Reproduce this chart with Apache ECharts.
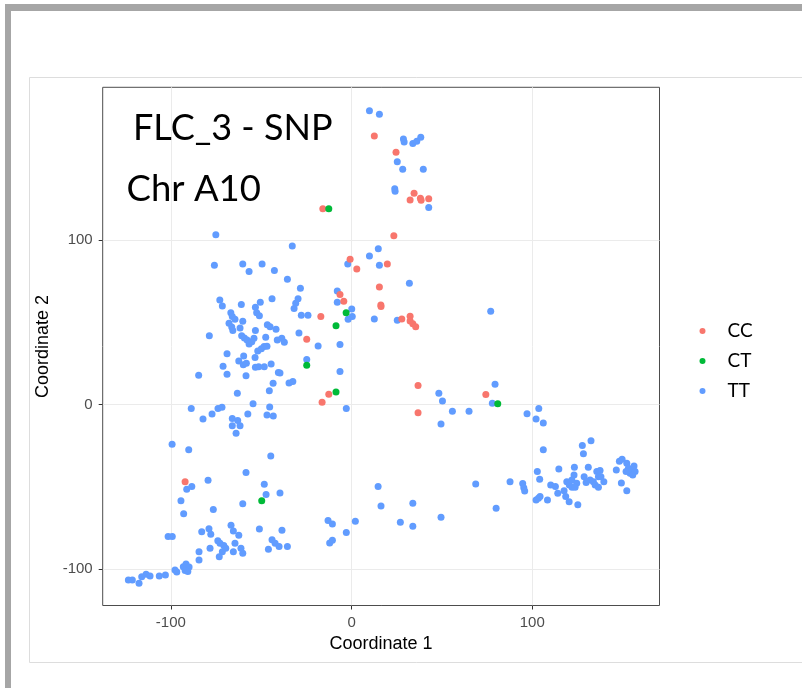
<!DOCTYPE html>
<html><head><meta charset="utf-8">
<script src="https://cdn.jsdelivr.net/npm/echarts@6/dist/echarts.min.js"></script>
<style>html,body{margin:0;padding:0;background:#fff}#c{width:802px;height:688px}</style>
</head><body><div id="c"></div>
<script>
const seriesNames = ['CC', 'CT', 'TT'];
const seriesColors = ['#F8766D', '#00BA38', '#619CFF'];
const xTickLabels = [-100, 0, 100];
const yTickLabels = [-100, 0, 100];
const titleLines = ['FLC_3 - SNP', 'Chr A10'];
const xAxisTitle = 'Coordinate 1';
const yAxisTitle = 'Coordinate 2';

const ccPoints = [
  [12.6,163.3],[24.6,153.4],[34.6,128.5],[32.4,124.4],[38.1,125.5],[38.5,124.3],[42.7,125.2],
  [-15.9,119],[23.4,102.7],[-0.8,88.4],[2.9,82.5],[19.8,85.5],[15.4,71.5],[-6.4,66.9],[-4.3,62.9],
  [16.2,60.6],[16.3,59.6],[-17,53.5],[27.8,52.1],[32.4,53.7],[32.4,50.9],[33.9,49.1],[35.5,47.4],
  [-24.8,39.8],[36.8,11.6],[-12.6,6.3],[-16.3,1.5],[74.3,6.1],[36.8,-4.9],[-92.1,-46.8]
];
const ctPoints = [
  [-12.6,119],[-3.0,55.9],[-8.6,48],[-24.8,24],[-8.6,7.7],[80.9,0.6],[-49.7,-58.5]
];
const ttPoints = [
  [9.9,178.7],[15.4,176.5],[28.7,161.5],[29.1,159.7],[33.9,158.7],[36.1,160.1],[38.3,162.6],[25.3,147.7],
  [28.3,143.1],[39.7,143.1],[23.9,131.3],[24.1,129.7],[42.7,119.8],[-32.8,96.5],[14.8,94.8],[9.9,90.4],
  [-75.1,103.3],[-2.1,85.5],[15.4,84.7],[-35.5,76.2],[-28.3,70.8],[32,73.8],[-7.9,69.1],[-29.6,64.4],
  [-30.9,61.6],[-31.8,58.4],[-7.9,62.2],[0.1,58.2],[0.4,53.5],[-1.9,51.9],[-27.8,54.3],[-24.1,54.3],
  [12.6,52.1],[25.3,51.3],[77,56.8],[-29.1,43.6],[-38.6,40.4],[-37.2,37.9],[-18.5,35.7],[-6.4,36.5],
  [-24.8,27.4],[-39.6,19.3],[-6.4,20.1],[-34.6,13.2],[-32.5,14],[48.3,6.9],[50.3,2.2],[79.4,12.4],
  [77.9,0.9],[55.8,-4],[65,-4],[49.5,-11.7],[-2.9,-2.4],
  [-75.9,84.7],[-60.2,85.5],[-56.7,80.9],[-49.5,85.5],[-42.7,81.5],[-72.9,63.6],[-71.5,60],[-61,60.8],
  [-50.5,62.2],[-44,64.4],[-53.2,59.2],[-52.5,55.9],[-51,54.1],[-66.8,55.9],[-66,53.5],[-64.5,51.9],
  [-67.8,49.5],[-66.3,47.2],[-65.7,45],[-60.2,50.7],[-61.7,46.6],[-53.2,45],[-46.6,48.5],[-45.1,47.4],
  [-41.8,45.8],[-78.7,41.9],[-60.8,41.8],[-59.3,40.5],[-57.8,39.3],[-56.7,36.9],[-55.2,38.3],[-54,40.4],
  [-47.5,41],[-41.1,39.3],[-51.9,32.6],[-49.9,34],[-48.4,35.3],[-46.8,35.5],[-68.9,31],[-62.4,26.6],
  [-59.7,29.6],[-59.9,24.3],[-58.2,25.2],[-53.4,28.6],[-71.1,23.3],[-53.2,22.7],[-51.4,23.1],[-48.3,23.1],
  [-44.5,24.7],[-84.6,17.9],[-68.9,18.5],[-58.4,17.6],[-40.5,19.5],[-43.4,13],[-63.2,6.9],[-45.5,8.5],
  [-54.5,0.6],[-88.7,-2.4],[-82.2,-8.7],[-77.2,-5.7],[-73.9,-2.4],[-71.7,-1.6],[-66,-8.5],[-63,-9.7],
  [-66,-12.9],[-61.7,-12.9],[-57.4,-5.7],[-45.3,-1.4],[-46.8,-6.3],[-43.3,-6.9],
  [-63.9,-17.4],[-99.3,-24.1],[-90.1,-27.4],[-44.7,-31.2],[-58.4,-41.3],[-79.4,-46],[-91.2,-51.4],[-88.4,-49.8],
  [-48.3,-48.4],[-47.3,-54.7],[-39.6,-53.7],[-94.4,-58.4],[-92.9,-66.3],[-76.5,-63.8],[-60.2,-60.2],[-82.9,-77.2],
  [-78.9,-75.4],[-77.9,-78.8],[-66.7,-73.3],[-65.4,-76.8],[-62.4,-79.4],[-51,-75.6],[-38.5,-76.4],[-101.5,-80.2],
  [-99.2,-80.2],[-74,-82.7],[-72.8,-84.3],[-78.3,-87.3],[-70.7,-85.7],[-69.6,-87.3],[-71.5,-89.4],[-73.2,-92.4],
  [-64.5,-84.3],[-65.4,-89.5],[-61.2,-87.3],[-60.2,-90.3],[-84.4,-89.5],[-84.4,-94.4],[-46,-87.9],[-44,-82.2],
  [-42.3,-84.3],[-40.1,-86.3],[-35.5,-86.3],[-96.7,-101.7],[-97.7,-100.5],[-93.1,-98.5],[-91.6,-96.8],[-90.9,-100.1],
  [-89.9,-98.7],[-92.1,-100.9],[-90.6,-101.5],[-106.4,-104.1],[-103,-103.5],[-113.7,-103.1],[-111.5,-104.1],[-116.1,-104.6],
  [-117.6,-108.6],[-123.5,-106.6],[-121.3,-106.6],
  [14.7,-49.8],[16.3,-61.6],[33.9,-59.9],[68.7,-48.2],[87.7,-46.8],[80,-63],[49.5,-68.5],[27,-71.5],
  [33.9,-73.9],[2.1,-70.9],[-2.9,-77.8],[-13,-70.5],[-10.6,-72.5],[-12.1,-84.1],[-10.6,-82.4],
  [97.1,-5.5],[103.6,-2.4],[102.1,-8.7],[106.1,-11.1],[106.1,-27.4],[127.7,-24.9],[132.5,-21.9],[128.3,-29.8],
  [94.7,-48],[95.3,-50.5],[95.8,-52.5],[102.8,-40.7],[104.1,-45.4],[114.7,-39.1],[110.2,-48.8],[112.8,-49.8],
  [114.1,-53.9],[117.6,-52.3],[118.5,-55.9],[120.4,-59.1],[125.2,-60.8],[102.1,-57.9],[103.4,-56.9],[104.3,-55.9],
  [108.4,-57.9],[123.3,-38.1],[119.1,-46.8],[120.5,-48.8],[121.9,-45.8],[123.1,-42.7],[124.6,-47.8],[122,-50.2],
  [123.7,-50.2],[128.7,-43.8],[131,-38.1],[129.8,-47.4],[132,-45.8],[133.8,-46.8],[135.7,-40.7],[136.6,-43.8],
  [134.8,-48.8],[136.6,-50.2],[138,-43.8],[139.6,-46.8],[137.5,-40.1],[146.5,-39.7],[148.2,-34.4],[149.7,-33.2],
  [152.3,-35.6],[153.2,-38.7],[154.1,-41.7],[151.9,-40.7],[155.1,-39.7],[156.3,-37.3],[156.9,-40.7],[155.6,-42.7],
  [149.3,-47.6],[152.3,-52.3]
];

const chart = echarts.init(document.getElementById('c'), null, {renderer: 'canvas'});
const pointsBySeries = {CC: ccPoints, CT: ctPoints, TT: ttPoints};
const drawOrder = ['TT', 'CC', 'CT'];
const gridLine = {show: true, lineStyle: {color: '#EBEBEB', width: 1}};
const tickLabelStyle = {color: '#4D4D4D', fontSize: 15, fontFamily: 'Liberation Sans, Arial, sans-serif'};

chart.setOption({
  backgroundColor: '#ffffff',
  animation: false,
  grid: {left: 102.7, top: 87.3, right: 142.5, bottom: 82.5, show: true, borderColor: '#4D4D4D', borderWidth: 1, backgroundColor: 'transparent'},
  xAxis: {
    type: 'value', position: 'bottom', min: -137.7, max: 170.4, minInterval: 50, maxInterval: 50,
    name: xAxisTitle, nameLocation: 'middle', nameGap: 28.5,
    nameTextStyle: {color: '#000', fontSize: 18, fontFamily: 'Liberation Sans, Arial, sans-serif'},
    axisLine: {show: false, onZero: false},
    axisTick: {show: true, inside: false, customValues: xTickLabels, length: 4, lineStyle: {color: '#333'}},
    axisLabel: Object.assign({customValues: xTickLabels, margin: 10}, tickLabelStyle),
    splitLine: gridLine
  },
  yAxis: {
    type: 'value', position: 'left', min: -122.1, max: 192.9, minInterval: 50, maxInterval: 50,
    name: yAxisTitle, nameLocation: 'middle', nameGap: 46.7, nameRotate: 90,
    nameTextStyle: {color: '#000', fontSize: 18, fontFamily: 'Liberation Sans, Arial, sans-serif'},
    axisLine: {show: false, onZero: false},
    axisTick: {show: true, inside: false, customValues: yTickLabels, length: 4, lineStyle: {color: '#333'}},
    axisLabel: Object.assign({customValues: yTickLabels, margin: 10}, tickLabelStyle),
    splitLine: gridLine
  },
  legend: {
    data: seriesNames, orient: 'vertical', left: 699.5, top: 321, padding: 0,
    itemWidth: 40, itemHeight: 6, itemGap: 10, icon: 'circle',
    textStyle: {color: '#000', fontSize: 19, fontFamily: 'Lato, sans-serif', lineHeight: 20}
  },
  series: drawOrder.map(function (name) {
    return {
      name: name, type: 'scatter', symbol: 'circle', symbolSize: 7,
      data: pointsBySeries[name],
      itemStyle: {color: seriesColors[seriesNames.indexOf(name)], opacity: 1},
      emphasis: {disabled: true}
    };
  }),
  graphic: [
    {type: 'rect', z: 0, shape: {x: 5, y: 4, width: 797, height: 7}, style: {fill: '#A6A6A6'}},
    {type: 'rect', z: 0, shape: {x: 5, y: 4, width: 6, height: 684}, style: {fill: '#A6A6A6'}},
    {type: 'rect', z: 0, shape: {x: 29.5, y: 77.5, width: 790, height: 585}, style: {fill: 'none', stroke: '#DDDDDD', lineWidth: 1}},
    {type: 'text', z: 100, x: 133, y: 128, style: {text: titleLines[0], fill: '#000', font: '36px Lato, sans-serif', verticalAlign: 'middle', align: 'left'}},
    {type: 'text', z: 100, x: 126.5, y: 189, style: {text: titleLines[1], fill: '#000', font: '36.5px Lato, sans-serif', verticalAlign: 'middle', align: 'left'}}
  ]
});
</script>
</body></html>
